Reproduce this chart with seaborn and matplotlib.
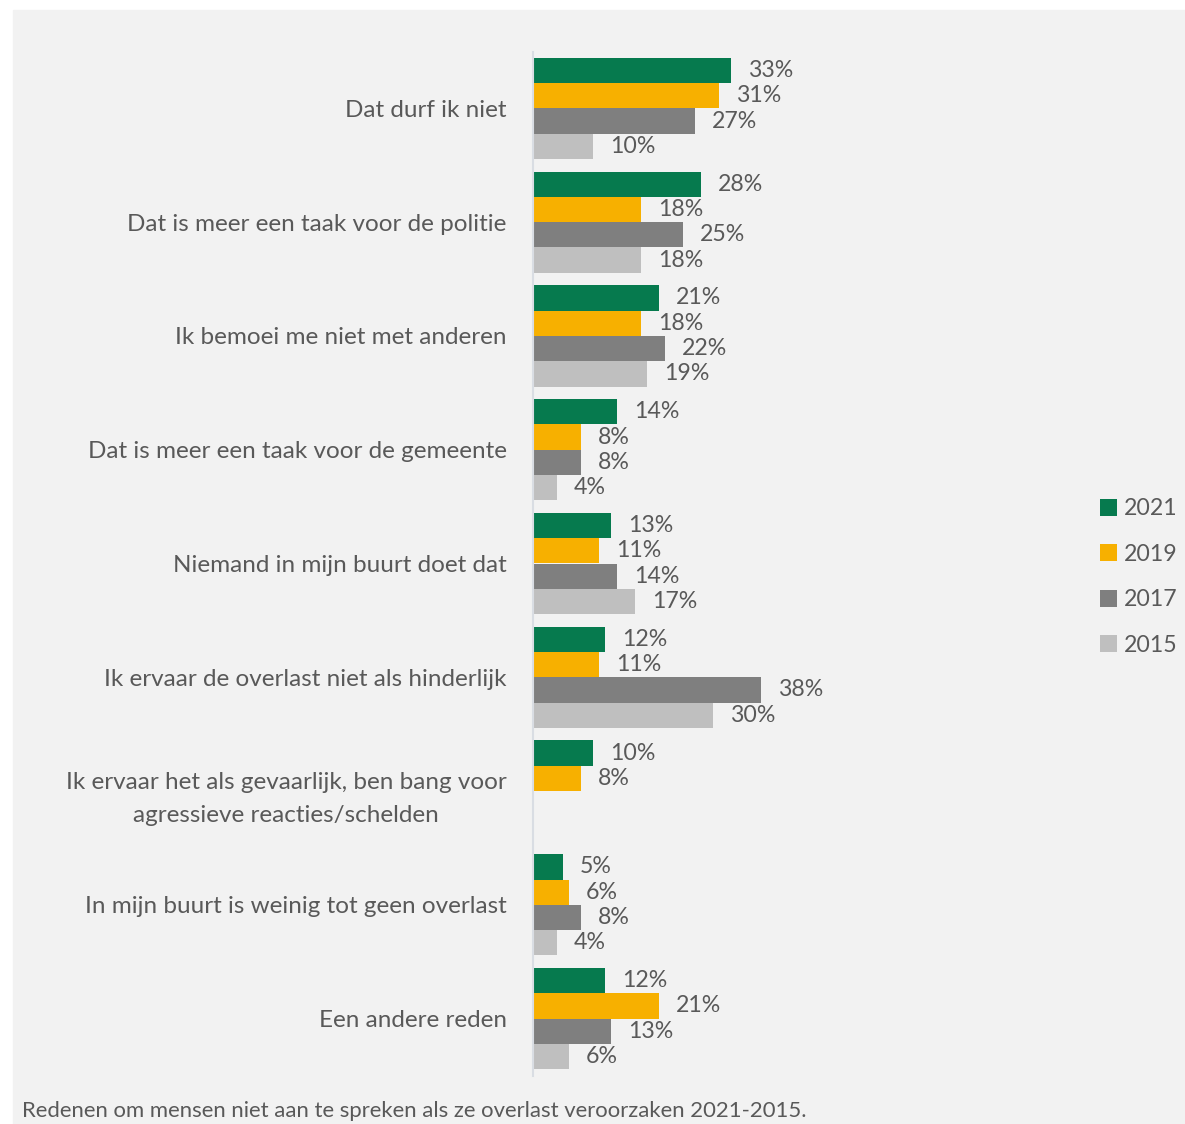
import numpy as np
import pandas as pd
import matplotlib.pyplot as plt
import seaborn as sns

# ── data ──────────────────────────────────────────────────────────────
categories = [
    "Dat durf ik niet",
    "Dat is meer een taak voor de politie",
    "Ik bemoei me niet met anderen",
    "Dat is meer een taak voor de gemeente",
    "Niemand in mijn buurt doet dat",
    "Ik ervaar de overlast niet als hinderlijk",
    "Ik ervaar het als gevaarlijk, ben bang voor\nagressieve reacties/schelden",
    "In mijn buurt is weinig tot geen overlast",
    "Een andere reden",
]
years = ["2021", "2019", "2017", "2015"]
v2021 = [33, 28, 21, 14, 13, 12, 10, 5, 12]
v2019 = [31, 18, 18, 8, 11, 11, 8, 6, 21]
v2017 = [27, 25, 22, 8, 14, 38, np.nan, 8, 13]
v2015 = [10, 18, 19, 4, 17, 30, np.nan, 4, 6]
colors = ["#067A4E", "#F7B000", "#7F7F7F", "#BFBFBF"]
caption = "Redenen om mensen niet aan te spreken als ze overlast veroorzaken 2021-2015."
# ──────────────────────────────────────────────────────────────────────

df = pd.DataFrame({
    "reden": categories * 4,
    "jaar": sum([[y] * len(categories) for y in years], []),
    "pct": v2021 + v2019 + v2017 + v2015,
}).dropna()

bg = "#F2F2F2"
txt = "#595959"
plt.rcParams["font.family"] = ["Lato", "DejaVu Sans"]

fig = plt.figure(figsize=(11.85, 11.24), dpi=100)
fig.patches.append(plt.Rectangle((13 / 1185, 0), 1, 1 - 10 / 1124,
                                 transform=fig.transFigure, color=bg, zorder=-10))
ax = fig.add_axes([533 / 1185, 1 - 1075.5 / 1124, 527 / 1185, 1024 / 1124])
ax.set_facecolor(bg)

sns.barplot(data=df, y="reden", x="pct", hue="jaar", order=categories,
            hue_order=years, palette=colors, saturation=1, orient="h",
            width=0.89, linewidth=0, ax=ax)

for cont in ax.containers:
    ax.bar_label(cont, fmt="%d%%", padding=12, fontsize=16.7, color=txt)

ax.set_xlim(0, 87.8)
ax.set_xlabel("")
ax.set_ylabel("")
ax.set_xticks([])
for s in ["top", "right", "bottom"]:
    ax.spines[s].set_visible(False)
ax.spines["left"].set_color("#D9DDE3")
ax.spines["left"].set_linewidth(1.5)
ax.tick_params(axis="y", length=0, pad=19, labelsize=17.5, labelcolor=txt)
for lbl in ax.get_yticklabels():
    lbl.set_multialignment("center")
    lbl.set_linespacing(1.7)

leg = ax.legend(loc="center left", bbox_to_anchor=(1100 / 1185, 1 - 577 / 1124),
                bbox_transform=fig.transFigure, frameon=False, fontsize=16.7,
                handlelength=0.75, handleheight=0.75, handletextpad=0.3,
                labelspacing=1.06, labelcolor=txt, borderaxespad=0, borderpad=0)

fig.text(22 / 1185, 1 - 1111 / 1124, caption, fontsize=15.9, color=txt,
         va="center", ha="left")

plt.savefig("out.png", dpi=100, facecolor="white")
